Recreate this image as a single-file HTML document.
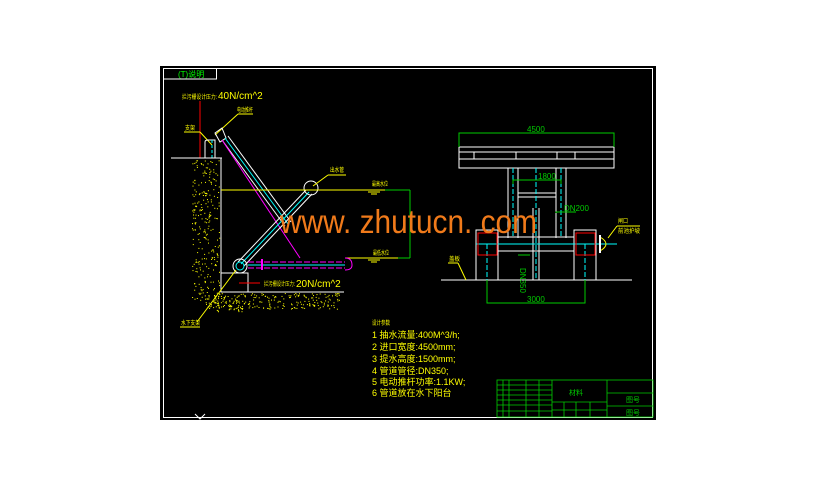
<!DOCTYPE html>
<html><head><meta charset="utf-8"><style>
html,body{margin:0;padding:0;background:#fff;}
svg{display:block}
text{font-family:"Liberation Sans","Noto Sans CJK SC",sans-serif;}
</style></head><body>
<svg width="818" height="488" viewBox="0 0 818 488" xmlns="http://www.w3.org/2000/svg">
<rect x="0" y="0" width="818" height="488" fill="#fff"/>
<rect x="160" y="66" width="496" height="354" fill="#000"/>
<rect x="163.5" y="68.5" width="489" height="349" fill="none" stroke="#fff" stroke-width="1"/>
<rect x="163.5" y="68.5" width="53" height="10.5" fill="none" stroke="#fff"/>
<text x="178" y="77" font-size="8" fill="#0f0">(T)说明</text>

<text x="182" y="99" font-size="6" fill="#ff0" textLength="35" lengthAdjust="spacingAndGlyphs">拦污栅设计压力:</text>
<text x="218" y="99" font-size="10" fill="#ff0">40N/cm^2</text>
<line x1="200" y1="101" x2="200" y2="158" stroke="#f00"/>
<text x="237" y="112" font-size="6" fill="#ff0" textLength="16" lengthAdjust="spacingAndGlyphs">电动推杆</text>
<line x1="238" y1="114" x2="253" y2="114" stroke="#ff0"/>
<line x1="238" y1="114" x2="215" y2="135" stroke="#ff0"/>
<text x="185" y="130" font-size="6" fill="#ff0" textLength="10" lengthAdjust="spacingAndGlyphs">支架</text>
<line x1="184" y1="132" x2="200" y2="132" stroke="#ff0"/>
<line x1="200" y1="132" x2="212" y2="145" stroke="#ff0"/>
<path d="M205 158 V142 Q205 140 208 140 H215 V158" fill="none" stroke="#fff"/>
<line x1="212" y1="140" x2="212" y2="158" stroke="#0ff" stroke-dasharray="3,2"/>
<line x1="171" y1="158" x2="222" y2="158" stroke="#fff"/>
<line x1="221" y1="158" x2="221" y2="292" stroke="#fff"/>
<polygon points="215,133 222,128 226,138 220,142" fill="none" stroke="#fff"/>
<line x1="222" y1="140" x2="285" y2="226" stroke="#fff"/>
<line x1="228" y1="136" x2="291" y2="222" stroke="#fff"/>
<line x1="225" y1="138" x2="288" y2="224" stroke="#0ff"/>
<line x1="222" y1="140" x2="300" y2="258" stroke="#f0f"/>
<line x1="238" y1="262" x2="306" y2="190" stroke="#fff"/>
<line x1="244" y1="266" x2="312" y2="194" stroke="#fff"/>
<line x1="241" y1="264" x2="309" y2="192" stroke="#0ff"/>
<circle cx="311" cy="188" r="7" fill="none" stroke="#fff"/>
<text x="330" y="172" font-size="6" fill="#ff0" textLength="14" lengthAdjust="spacingAndGlyphs">出水管</text>
<line x1="328" y1="175" x2="346" y2="175" stroke="#ff0"/>
<line x1="328" y1="175" x2="313" y2="186" stroke="#ff0"/>
<line x1="221" y1="190" x2="385" y2="190" stroke="#ff0"/>
<line x1="385" y1="190" x2="410" y2="190" stroke="#0c0"/>
<text x="372" y="186" font-size="6" fill="#ff0" textLength="16" lengthAdjust="spacingAndGlyphs">最高水位</text>
<line x1="368" y1="192" x2="380" y2="192" stroke="#ff0"/>
<line x1="371" y1="194" x2="377" y2="194" stroke="#ff0"/>
<line x1="345" y1="258" x2="398" y2="258" stroke="#ff0"/>
<line x1="398" y1="258" x2="410" y2="258" stroke="#0c0"/>
<line x1="410" y1="190" x2="410" y2="258" stroke="#0c0"/>
<text x="373" y="255" font-size="6" fill="#ff0" textLength="16" lengthAdjust="spacingAndGlyphs">最低水位</text>
<line x1="368" y1="260" x2="380" y2="260" stroke="#ff0"/>
<line x1="371" y1="262" x2="377" y2="262" stroke="#ff0"/>
<circle cx="240" cy="266" r="7" fill="none" stroke="#fff"/>
<circle cx="240" cy="266" r="4" fill="none" stroke="#0ff"/>
<rect x="221" y="273" width="27" height="19" fill="none" stroke="#fff"/>
<line x1="248" y1="262" x2="345" y2="262" stroke="#f0f" stroke-dasharray="6,2"/>
<line x1="248" y1="268" x2="345" y2="268" stroke="#f0f" stroke-dasharray="6,2"/>
<line x1="248" y1="265" x2="345" y2="265" stroke="#0ff"/>
<line x1="262" y1="259" x2="262" y2="270" stroke="#f0f" stroke-width="2"/>
<path d="M345 258 Q352 258 352 265 Q352 270 345 270" fill="none" stroke="#f0f"/>
<line x1="239" y1="283" x2="260" y2="283" stroke="#f00"/>
<text x="264" y="286" font-size="6" fill="#ff0" textLength="31" lengthAdjust="spacingAndGlyphs">拦污栅设计压力:</text>
<text x="296" y="287" font-size="10" fill="#ff0">20N/cm^2</text>
<line x1="221" y1="292" x2="344" y2="292" stroke="#fff"/>
<line x1="236" y1="270" x2="197" y2="322" stroke="#ff0"/>
<text x="181" y="325" font-size="6" fill="#ff0" textLength="19" lengthAdjust="spacingAndGlyphs">水下支架</text>
<line x1="180" y1="327" x2="200" y2="327" stroke="#ff0"/>
<g id="dots"></g>

<g fill="#ff0">
<text x="372" y="325" font-size="6" textLength="18" lengthAdjust="spacingAndGlyphs">设计参数</text>
<text x="372" y="338" font-size="9">1 抽水流量:400M^3/h;</text>
<text x="372" y="350" font-size="9">2 进口宽度:4500mm;</text>
<text x="372" y="362" font-size="9">3 提水高度:1500mm;</text>
<text x="372" y="374" font-size="9">4 管道管径:DN350;</text>
<text x="372" y="385" font-size="9">5 电动推杆功率:1.1KW;</text>
<text x="372" y="396" font-size="9">6 管道放在水下阳台</text>
</g>

<g stroke="#fff" fill="none">
<rect x="459" y="147" width="155" height="21"/>
<line x1="459" y1="152" x2="614" y2="152"/>
<line x1="459" y1="159" x2="614" y2="159"/>
<line x1="474" y1="152" x2="474" y2="159"/><line x1="516" y1="152" x2="516" y2="159"/>
<line x1="557" y1="152" x2="557" y2="159"/><line x1="575" y1="152" x2="575" y2="159"/>
<line x1="508" y1="168" x2="508" y2="238"/><line x1="518" y1="168" x2="518" y2="238"/>
<line x1="556" y1="168" x2="556" y2="238"/><line x1="566" y1="168" x2="566" y2="238"/>
<line x1="518" y1="193" x2="556" y2="193"/><line x1="518" y1="197" x2="556" y2="197"/>
<line x1="533" y1="208" x2="533" y2="280"/><line x1="539" y1="208" x2="539" y2="280"/>
<rect x="476" y="230" width="22" height="50"/>
<rect x="574" y="230" width="22" height="50"/>
<line x1="498" y1="237" x2="574" y2="237"/><line x1="498" y1="251" x2="574" y2="251"/>
<line x1="441" y1="280" x2="632" y2="280"/>
</g>
<g stroke="#0ff" stroke-dasharray="5,2">
<line x1="513" y1="168" x2="513" y2="238"/><line x1="561" y1="168" x2="561" y2="238"/>
<line x1="536" y1="168" x2="536" y2="280"/>
<line x1="476" y1="244" x2="617" y2="244" stroke-dasharray="none"/>
<line x1="487" y1="244" x2="487" y2="300"/><line x1="585" y1="244" x2="585" y2="300"/>
</g>
<rect x="478" y="233" width="19" height="22" fill="none" stroke="#f00"/>
<rect x="576" y="233" width="19" height="22" fill="none" stroke="#f00"/>
<path d="M600 237 Q612 244 600 251" fill="none" stroke="#ff0"/>
<line x1="600" y1="235" x2="600" y2="253" stroke="#fff" stroke-width="2"/>
<g stroke="#0c0" fill="none">
<polyline points="459,147 459,133 614,133 614,147"/>
<polyline points="513,184 513,180 561,180 561,184"/>
<polyline points="556,213 556,212 576,212"/>
<polyline points="487,280 487,303 585,303 585,280"/>
<line x1="518" y1="255" x2="530" y2="255"/>
</g>
<g fill="#0c0" font-size="8">
<text x="527" y="132">4500</text>
<text x="538" y="179">1800</text>
<text x="564" y="211">DN200</text>
<text x="527" y="302">3000</text>
<text x="520" y="268" transform="rotate(90 520 268)">DN350</text>
</g>
<g fill="#ff0">
<text x="618" y="223" font-size="6" textLength="10" lengthAdjust="spacingAndGlyphs">闸口</text>
<text x="618" y="233" font-size="6" textLength="22" lengthAdjust="spacingAndGlyphs">前池护坡</text>
<text x="449" y="261" font-size="6" textLength="11" lengthAdjust="spacingAndGlyphs">盖板</text>
</g>
<line x1="617" y1="226" x2="608" y2="238" stroke="#ff0"/>
<line x1="617" y1="226" x2="640" y2="226" stroke="#ff0"/>
<line x1="448" y1="263" x2="458" y2="263" stroke="#ff0"/>
<line x1="458" y1="263" x2="466" y2="280" stroke="#ff0"/>

<g stroke="#0c0" fill="none" stroke-width="0.8">
<rect x="497" y="380" width="156" height="37"/>
<line x1="552" y1="380" x2="552" y2="417"/>
<line x1="607" y1="380" x2="607" y2="417"/>
<line x1="607" y1="393" x2="653" y2="393"/><line x1="607" y1="406" x2="653" y2="406"/>
<line x1="552" y1="402" x2="607" y2="402"/><line x1="552" y1="410" x2="607" y2="410"/>
<line x1="564" y1="402" x2="564" y2="417"/><line x1="576" y1="402" x2="576" y2="417"/><line x1="590" y1="402" x2="590" y2="417"/>
<line x1="503" y1="380" x2="503" y2="417"/><line x1="509" y1="380" x2="509" y2="417"/>
<line x1="526" y1="380" x2="526" y2="417"/><line x1="539" y1="380" x2="539" y2="417"/>
<line x1="497" y1="385" x2="552" y2="385"/><line x1="497" y1="390" x2="552" y2="390"/>
<line x1="497" y1="395" x2="552" y2="395"/><line x1="497" y1="400" x2="552" y2="400"/>
<line x1="497" y1="405" x2="552" y2="405"/><line x1="497" y1="411" x2="552" y2="411"/>
</g>
<g fill="#0c0" font-size="7">
<text x="569" y="395">材料</text>
<text x="626" y="402">图号</text>
<text x="626" y="415">图号</text>
</g>
<path d="M195 414 L200 419 L205 414" fill="none" stroke="#fff"/>

<text x="280" y="233" font-size="33" fill="#f07a1a" textLength="257" lengthAdjust="spacingAndGlyphs">www. zhutucn. com</text>
</svg>
<script>
(function(){
var g=document.getElementById('dots'),ns='http://www.w3.org/2000/svg',s=7;
function r(){s=(s*9301+49297)%233280;return s/233280;}
function add(x0,y0,w,h,n){for(var i=0;i<n;i++){var c=document.createElementNS(ns,'rect');
c.setAttribute('x',(x0+r()*w).toFixed(1));c.setAttribute('y',(y0+r()*h).toFixed(1));
c.setAttribute('width',1);c.setAttribute('height',1);c.setAttribute('fill','#ff0');g.appendChild(c);}}
add(192,160,28,140,260);add(205,293,135,16,220);add(210,300,40,12,40);
})();
</script>
</body></html>
